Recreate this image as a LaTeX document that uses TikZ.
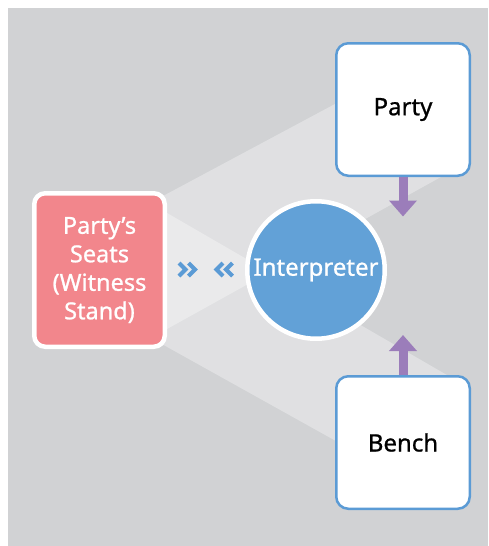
\documentclass[tikz,border=0pt]{standalone}
\usepackage{fontspec}
\setmainfont{Noto Sans}[FakeBold=0.9]
\usetikzlibrary{arrows.meta}
\definecolor{bggray}{HTML}{D1D2D4}
\definecolor{boxblue}{HTML}{5B9BD5}
\definecolor{circblue}{HTML}{62A1D7}
\definecolor{seatpink}{HTML}{F2868C}
\definecolor{arrpurple}{HTML}{9B7DBA}
\begin{document}
\begin{tikzpicture}[x=1pt,y=-1pt,
  band/.style={fill=white,opacity=0.33},
  whitebox/.style={draw=boxblue,line width=2.5pt,fill=white,rounded corners=12pt,
    minimum width=133.5pt,minimum height=132.5pt,inner sep=0pt,
    font=\fontsize{24}{28}\selectfont,text=black},
  seatbox/.style={draw=white,line width=4.5pt,fill=seatpink,rounded corners=11pt,
    minimum width=130.5pt,minimum height=153.5pt,inner sep=0pt,align=center,
    font=\fontsize{23.5}{28.5}\selectfont,text=white},
  interp/.style={circle,draw=white,line width=4.5pt,fill=circblue,minimum size=137.5pt,
    inner sep=0pt,font=\fontsize{24}{28}\selectfont,text=white},
  flow/.style={draw=arrpurple,line width=9pt,-{Triangle[width=27pt,length=16pt]}},
  chev/.style={draw=boxblue,line width=4pt,line join=miter}
]
\useasboundingbox (0,0) rectangle (488,546);
\fill[bggray] (8,8) rectangle (488,546);
% light bands
\fill[band] (155,200.3) -- (400,69.2) -- (460,166.4) -- (155,335.7) -- cycle;
\fill[band] (155,206) -- (460,382.6) -- (400,476.7) -- (155,340.2) -- cycle;
% nodes
\node[whitebox] (party) at (403,109.5) {Party};
\node[whitebox] (bench) at (403,442.5) {Bench};
\node[seatbox] (seats) at (99.5,270) {Party’s\\Seats\\(Witness\\Stand)};
\node[interp] (int) at (316,270) {Interpreter};
% arrows
\coordinate (ta) at (403,216.5);
\coordinate (tb) at (403,335);
\draw[flow] (party.south) -- (ta);
\draw[flow] (bench.north) -- (tb);
% chevrons
\draw[chev] (179,263) -- (185.5,269.5) -- (179,276);
\draw[chev] (188.5,263) -- (195,269.5) -- (188.5,276);
\draw[chev] (223,263) -- (216.5,269.5) -- (223,276);
\draw[chev] (232.5,263) -- (226,269.5) -- (232.5,276);
\end{tikzpicture}
\end{document}
